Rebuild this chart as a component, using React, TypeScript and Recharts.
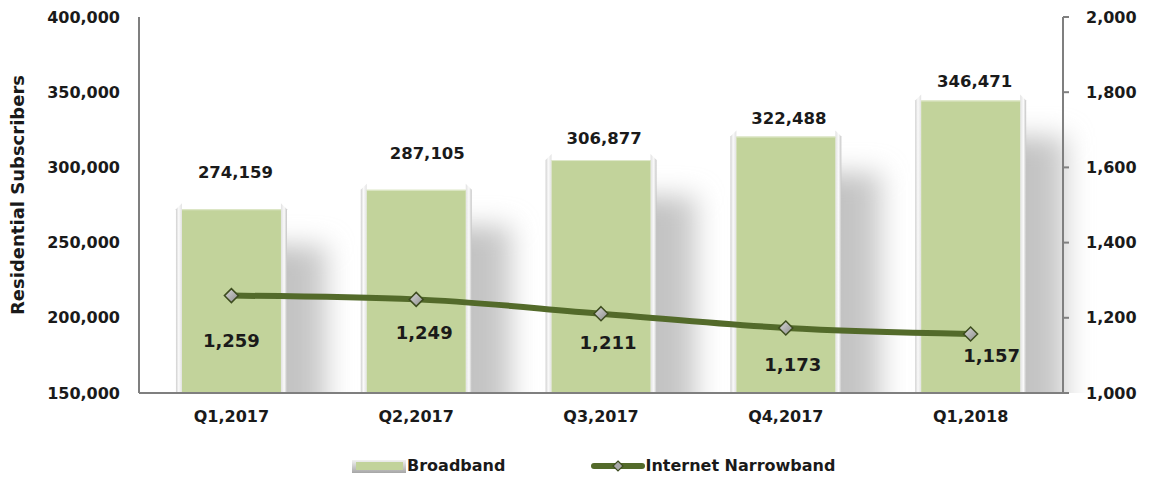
import { Bar, ComposedChart, LabelList, Legend, Line, XAxis, YAxis } from 'recharts';

const quarters = ['Q1,2017', 'Q2,2017', 'Q3,2017', 'Q4,2017', 'Q1,2018'];
const broadband = [274159, 287105, 306877, 322488, 346471];
const narrowband = [1259, 1249, 1211, 1173, 1157];
const leftTicks = [150000, 200000, 250000, 300000, 350000, 400000];
const rightTicks = [1000, 1200, 1400, 1600, 1800, 2000];

// label nudges to match the original placement
const barLabelLift = [28, 28, 13, 10, 11];
const barLabelShift = [4, 11, 3, 3, 4];
const lineLabelDx = [0, 8, 7, 7, 21];
const lineLabelDy = [44, 33, 28, 36, 21];

const chartData = quarters.map((q, i) => ({
  quarter: q,
  broadband: broadband[i],
  narrowband: narrowband[i],
}));

const FONT = '"DejaVu Sans", sans-serif';
const fmt = (v: number) => v.toLocaleString('en-US');

function BeveledBar(props: any) {
  const { x, y, width, height, index } = props;
  if (!height || height <= 0) return null;
  const bottom = y + height;
  const gy = y + 3;
  const e = 6;
  return (
    <g>
      <clipPath id={`shadow-clip-${index}`}>
        <rect x={x + width - 4} y={0} width={120} height={bottom} />
      </clipPath>
      <rect
        x={x + 40}
        y={gy + 36}
        width={width}
        height={bottom - gy}
        fill="url(#shadowGrad)"
        filter="url(#shadowBlur)"
        clipPath={`url(#shadow-clip-${index})`}
      />
      <polygon
        points={`${x},${bottom} ${x},${gy} ${x + e},${gy - 6} ${x + e},${bottom}`}
        fill="url(#leftEdge)"
      />
      <polygon
        points={`${x + width - e},${bottom} ${x + width - e},${gy - 6} ${x + width},${gy} ${x + width},${bottom}`}
        fill="url(#rightEdge)"
      />
      <rect x={x + e} y={gy} width={width - 2 * e} height={bottom - gy} fill="#c2d39b" />
      <line x1={x + e} x2={x + width - e} y1={gy + 0.5} y2={gy + 0.5} stroke="#dfe8cb" strokeWidth={1} />
    </g>
  );
}

function Diamond(props: any) {
  const { cx, cy } = props;
  if (cx == null || cy == null) return null;
  const s = 7;
  return (
    <polygon
      points={`${cx},${cy - s} ${cx + s},${cy} ${cx},${cy + s} ${cx - s},${cy}`}
      fill="url(#markerGrad)"
      stroke="#3d4c1f"
      strokeWidth={1.5}
    />
  );
}

function BarValueLabel(props: any) {
  const { x, y, width, index, value } = props;
  return (
    <text
      x={x + width / 2 + barLabelShift[index]}
      y={y - barLabelLift[index]}
      textAnchor="middle"
      fontFamily={FONT}
      fontWeight="bold"
      fontSize={16.5}
      fill="#1a1a1a"
    >
      {fmt(value)}
    </text>
  );
}

function LineValueLabel(props: any) {
  const { x, y, index, value } = props;
  return (
    <text
      x={x + lineLabelDx[index]}
      y={y + lineLabelDy[index]}
      dy={7}
      textAnchor="middle"
      fontFamily={FONT}
      fontWeight="bold"
      fontSize={18}
      fill="#1a1a1a"
    >
      {fmt(value)}
    </text>
  );
}

function AxisTitle(props: any) {
  const { viewBox } = props;
  const cy = viewBox.y + viewBox.height / 2 - 10;
  return (
    <text
      x={24}
      y={cy}
      transform={`rotate(-90, 24, ${cy})`}
      textAnchor="middle"
      fontFamily={FONT}
      fontWeight="bold"
      fontSize={18}
      fill="#1a1a1a"
    >
      Residential Subscribers
    </text>
  );
}

function ChartLegend() {
  const text = { fontFamily: FONT, fontWeight: 'bold' as const, fontSize: 16, color: '#1a1a1a' };
  return (
    <div style={{ height: 48, position: 'relative' }}>
      <div style={{ position: 'absolute', left: 352, top: 23, display: 'flex', alignItems: 'center' }}>
        <svg width={54} height={16}>
          <rect x={0} y={2} width={54} height={13} fill="url(#legendEdge)" />
          <rect x={4} y={4} width={47} height={8} fill="#c2d39b" />
        </svg>
        <span style={{ ...text, marginLeft: 1 }}>Broadband</span>
        <svg width={54} height={16} style={{ marginLeft: 86 }}>
          <line x1={3} x2={51} y1={8} y2={8} stroke="#536a2a" strokeWidth={6} strokeLinecap="round" />
          <polygon points="27,3 32,8 27,13 22,8" fill="#a8a8a8" stroke="#3d4c1f" strokeWidth={1.2} />
        </svg>
        <span style={{ ...text, marginLeft: 0 }}>Internet Narrowband</span>
      </div>
    </div>
  );
}

export default function App() {
  const tickStyle = { fontFamily: FONT, fontWeight: 'bold', fontSize: 16, fill: '#1a1a1a' };
  return (
    <div style={{ position: 'absolute', left: 0, top: 0, width: 1149, height: 481, background: '#fff' }}>
      <svg width={0} height={0} style={{ position: 'absolute' }}>
        <defs>
          <linearGradient id="legendEdge" x1="0" x2="0" y1="0" y2="1">
            <stop offset="0%" stopColor="#f2f2f2" />
            <stop offset="100%" stopColor="#a6a6a6" />
          </linearGradient>
        </defs>
      </svg>
      <ComposedChart
        width={1149}
        height={481}
        data={chartData}
        margin={{ top: 17, right: 0, bottom: 0, left: 0 }}
        barCategoryGap="20%"
      >
        <defs>
          <linearGradient id="leftEdge" x1="0" x2="1" y1="0" y2="0">
            <stop offset="0%" stopColor="#d0d0d0" />
            <stop offset="45%" stopColor="#fafafa" />
            <stop offset="100%" stopColor="#e2e2e2" />
          </linearGradient>
          <linearGradient id="rightEdge" x1="0" x2="1" y1="0" y2="0">
            <stop offset="0%" stopColor="#e2e2e2" />
            <stop offset="55%" stopColor="#fafafa" />
            <stop offset="100%" stopColor="#c4c4c4" />
          </linearGradient>
          <linearGradient id="shadowGrad" x1="0" x2="1" y1="0" y2="0">
            <stop offset="0%" stopColor="#b0b0b0" />
            <stop offset="100%" stopColor="#cdcdcd" />
          </linearGradient>
          <linearGradient id="markerGrad" x1="0" x2="1" y1="0" y2="1">
            <stop offset="0%" stopColor="#d9d9d9" />
            <stop offset="100%" stopColor="#8c8c8c" />
          </linearGradient>
          <filter id="shadowBlur" x="-50%" y="-50%" width="200%" height="200%">
            <feGaussianBlur stdDeviation="13" />
          </filter>
        </defs>
        <XAxis
          dataKey="quarter"
          height={40}
          axisLine={{ stroke: '#7f7f7f', strokeWidth: 2 }}
          tickLine={false}
          tickMargin={12}
          tick={tickStyle}
        />
        <YAxis
          yAxisId="left"
          width={139}
          domain={[150000, 400000]}
          ticks={leftTicks}
          tickFormatter={fmt}
          axisLine={{ stroke: '#7f7f7f', strokeWidth: 2 }}
          tickLine={false}
          tickMargin={13}
          tick={tickStyle}
          allowDataOverflow
          label={<AxisTitle />}
        />
        <YAxis
          yAxisId="right"
          orientation="right"
          width={86}
          domain={[1000, 2000]}
          ticks={rightTicks}
          tickFormatter={fmt}
          axisLine={{ stroke: '#7f7f7f', strokeWidth: 2 }}
          tickLine={{ stroke: '#7f7f7f', strokeWidth: 2 }}
          tickSize={6}
          tickMargin={17}
          tick={tickStyle}
        />
        <Legend verticalAlign="bottom" height={48} content={() => <ChartLegend />} />
        <Bar yAxisId="left" dataKey="broadband" name="Broadband" shape={<BeveledBar />} isAnimationActive={false}>
          <LabelList dataKey="broadband" content={<BarValueLabel />} />
        </Bar>
        <Line
          yAxisId="right"
          type="monotone"
          dataKey="narrowband"
          name="Internet Narrowband"
          stroke="#536a2a"
          strokeWidth={6}
          dot={<Diamond />}
          activeDot={false}
          isAnimationActive={false}
        >
          <LabelList dataKey="narrowband" content={<LineValueLabel />} />
        </Line>
      </ComposedChart>
    </div>
  );
}
